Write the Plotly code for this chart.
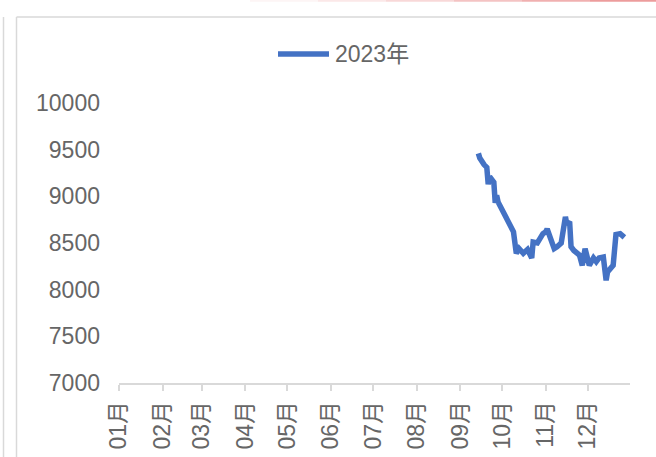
import plotly.graph_objects as go

# ---- data ----
dates = [
    "2023-09-14", "2023-09-15", "2023-09-18", "2023-09-20", "2023-09-21",
    "2023-09-22", "2023-09-25", "2023-09-26", "2023-09-27", "2023-09-28",
    "2023-10-09", "2023-10-10", "2023-10-11", "2023-10-13", "2023-10-16",
    "2023-10-19", "2023-10-22", "2023-10-23", "2023-10-26", "2023-10-30",
    "2023-11-01", "2023-11-02", "2023-11-04", "2023-11-07", "2023-11-09",
    "2023-11-12", "2023-11-15", "2023-11-16", "2023-11-18", "2023-11-19",
    "2023-11-21", "2023-11-25", "2023-11-27", "2023-11-29", "2023-12-02",
    "2023-12-05", "2023-12-07", "2023-12-09", "2023-12-12", "2023-12-14",
    "2023-12-15", "2023-12-19", "2023-12-21", "2023-12-24", "2023-12-27",
]
values_2023 = [
    9460, 9410, 9340, 9310, 9130,
    9210, 9150, 8930, 9010, 8940,
    8620, 8480, 8390, 8440, 8390,
    8430, 8340, 8510, 8500, 8600,
    8620, 8650, 8560, 8440, 8460,
    8500, 8780, 8700, 8730, 8460,
    8420, 8370, 8260, 8440, 8260,
    8340, 8300, 8340, 8350, 8100,
    8190, 8260, 8590, 8600, 8560,
]
series_name = "2023年"
y_ticks = [7000, 7500, 8000, 8500, 9000, 9500, 10000]
y_tick_labels = ["7000", "7500", "8000", "8500", "9000", "9500", "10000"]
x_range = ["2023-01-01", "2023-12-31"]

W, H = 656, 457
BLUE = "#4472C4"
GREY_TXT = "#666666"
FONT = "Liberation Sans, Noto Sans CJK SC, sans-serif"
FS = 23


def px(x):
    return x / W


def py(y):
    return 1 - y / H


fig = go.Figure()
fig.add_trace(go.Scatter(
    x=dates, y=values_2023, mode="lines", name=series_name,
    line=dict(color=BLUE, width=5.5), showlegend=False,
))

shapes = [
    # outer left border line
    dict(type="line", xref="paper", yref="paper", x0=px(3.5), x1=px(3.5),
         y0=py(17), y1=py(460), line=dict(color="#d9d9d9", width=1.5)),
    # chart box left and top border
    dict(type="line", xref="paper", yref="paper", x0=px(16.5), x1=px(16.5),
         y0=py(17), y1=py(460), line=dict(color="#d9d9d9", width=1.5)),
    dict(type="line", xref="paper", yref="paper", x0=px(16.5), x1=px(660),
         y0=py(17), y1=py(17), line=dict(color="#d9d9d9", width=1.5)),
    # legend sample
    dict(type="line", xref="paper", yref="paper", x0=px(278), x1=px(329),
         y0=py(54), y1=py(54), line=dict(color=BLUE, width=5.5)),
]
# faint red gradient line along the very top
for i, a in enumerate([0.06, 0.14, 0.24, 0.36, 0.48, 0.6]):
    x0 = 250 + i * 68
    shapes.append(dict(type="line", xref="paper", yref="paper",
                       x0=px(x0), x1=px(x0 + 68), y0=py(0.8), y1=py(0.8),
                       line=dict(color=f"rgba(224,90,90,{a})", width=2)))

fig.update_layout(
    width=W, height=H,
    margin=dict(l=0, r=0, t=0, b=0),
    paper_bgcolor="white", plot_bgcolor="white",
    font=dict(family=FONT, size=FS, color=GREY_TXT),
    shapes=shapes,
    annotations=[dict(
        text=series_name, xref="paper", yref="paper", x=px(333), y=py(54),
        xanchor="left", yanchor="middle", showarrow=False,
        font=dict(family=FONT, size=FS, color=GREY_TXT),
    )],
    xaxis=dict(
        type="date", range=x_range, domain=[px(119), px(630)],
        dtick="M1", tick0="2023-01-01", tickformat="%m月",
        ticklabelmode="instant", tickangle=-90,
        ticks="outside", ticklen=6, tickcolor="#d9d9d9", tickwidth=1.5,
        showline=True, linecolor="#d9d9d9", linewidth=1.5,
        showgrid=False, zeroline=False, automargin=False,
        ticklabelstandoff=1,
        tickfont=dict(family=FONT, size=FS, color=GREY_TXT),
    ),
    yaxis=dict(
        range=[7000, 10000], domain=[1 - 383 / H, 1 - 103 / H],
        tickvals=y_ticks, ticktext=y_tick_labels, ticks="",
        showline=False, showgrid=False,
        zeroline=False, automargin=False, ticklabelstandoff=18,
        tickfont=dict(family=FONT, size=FS, color=GREY_TXT),
    ),
)

fig.write_html("out.html", config={"displayModeBar": False},
               post_script="document.body.style.margin='0';")
